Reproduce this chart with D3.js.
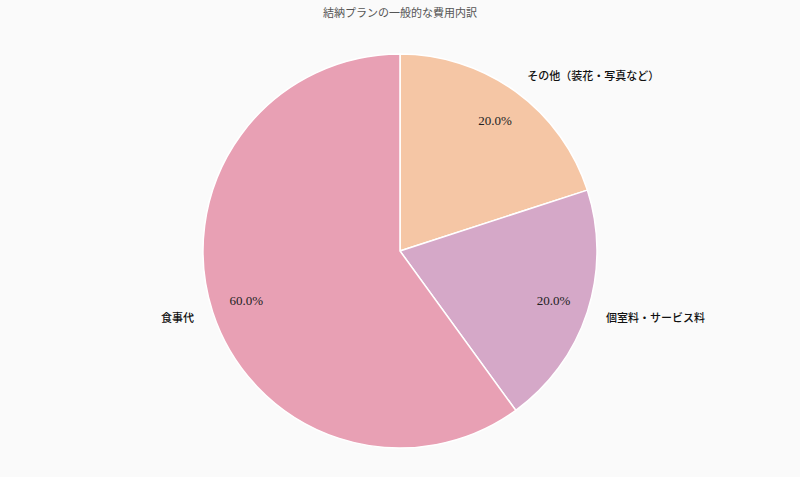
<!DOCTYPE html>
<html>
<head>
<meta charset="utf-8">
<script src="https://cdn.jsdelivr.net/npm/d3@7"></script>
<style>
  html, body { margin: 0; padding: 0; background: #fafafa; }
  svg { display: block; }
  text { font-family: "Liberation Serif", "DejaVu Serif", "Noto Sans CJK JP", serif; }
</style>
</head>
<body>
<svg id="chart" width="800" height="477"></svg>
<script>
const categories = ["その他（装花・写真など）", "個室料・サービス料", "食事代"];
const shares = [20, 20, 60];
const sliceColors = ["#f5c6a5", "#d5a8c8", "#e8a0b4"];
const chartTitle = "結納プランの一般的な費用内訳";

const width = 800, height = 477;
const cx = 400, cy = 251, radius = 197;

const svg = d3.select("#chart");

svg.append("text")
  .attr("x", width / 2)
  .attr("y", 17)
  .attr("text-anchor", "middle")
  .attr("fill", "#555")
  .style("font-size", "11px")
  .text(chartTitle);

const data = categories.map((name, i) => ({ name, value: shares[i], color: sliceColors[i] }));

const pie = d3.pie().value(d => d.value).sort(null);
const arcs = pie(data);
const arc = d3.arc().innerRadius(0).outerRadius(radius);

const g = svg.append("g").attr("transform", `translate(${cx},${cy})`);

g.selectAll("path")
  .data(arcs)
  .enter()
  .append("path")
  .attr("d", arc)
  .attr("fill", d => d.data.color)
  .attr("stroke", "#fff")
  .attr("stroke-width", 1.5);

const total = d3.sum(shares);
const pos = (d, k) => {
  const a = (d.startAngle + d.endAngle) / 2;
  return [Math.sin(a) * radius * k, -Math.cos(a) * radius * k];
};

// percentages inside
g.selectAll(".pct")
  .data(arcs)
  .enter()
  .append("text")
  .attr("class", "pct")
  .attr("x", d => pos(d, 0.82)[0])
  .attr("y", d => pos(d, 0.82)[1])
  .attr("dy", "0.35em")
  .attr("text-anchor", "middle")
  .attr("fill", "#222")
  .style("font-size", "13px")
  .text(d => (d.data.value / total * 100).toFixed(1) + "%");

// category labels outside
g.selectAll(".label")
  .data(arcs)
  .enter()
  .append("text")
  .attr("class", "label")
  .attr("x", d => pos(d, 1.1)[0])
  .attr("y", d => pos(d, 1.1)[1])
  .attr("dy", "0.35em")
  .attr("text-anchor", d => pos(d, 1)[0] >= 0 ? "start" : "end")
  .attr("fill", "#111")
  .style("font-size", "11px")
  .style("font-weight", "500")
  .text(d => d.data.name);
</script>
</body>
</html>
